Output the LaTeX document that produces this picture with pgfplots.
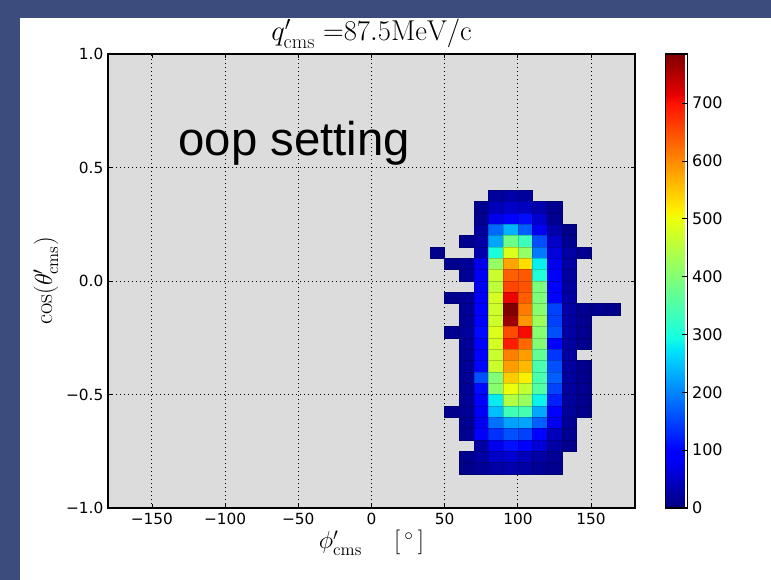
\RequirePackage{fix-cm}
\documentclass[border=0pt]{standalone}
\usepackage{fontspec}
\usepackage{pgfplots}
\pgfplotsset{compat=1.18}
\newfontfamily\dejavu{DejaVu Sans}
\newfontfamily\arialf{Liberation Sans}
\definecolor{framecol}{RGB}{60,76,124}
\definecolor{bggray}{RGB}{220,220,220}
\pgfplotsset{colormap={mpljet}{rgb(0pt)=(0,0,0.5); rgb(110pt)=(0,0,1); rgb(125pt)=(0,0,1); rgb(340pt)=(0,0.86,1); rgb(350pt)=(0,0.9,0.968); rgb(375pt)=(0.0806,1,0.887); rgb(640pt)=(0.935,1,0.032); rgb(650pt)=(0.968,0.963,0); rgb(660pt)=(1,0.926,0); rgb(890pt)=(1,0.074,0); rgb(910pt)=(0.909,0,0); rgb(1000pt)=(0.5,0,0)}}
\pgfdeclareplotmark{cell}{%
  \pgfpathrectangle{\pgfpoint{-5.4896pt}{-4.2563pt}}{\pgfpoint{10.9792pt}{8.5125pt}}%
  \pgfusepathqfillstroke}
\pgfplotstableread{
x y c
85 0.375 20
95 0.375 28
105 0.375 20
75 0.325 10
85 0.325 40
95 0.325 50
105 0.325 45
115 0.325 30
125 0.325 10
75 0.275 12
85 0.275 72
95 0.275 100
105 0.275 108
115 0.275 55
125 0.275 12
75 0.225 20
85 0.225 178
95 0.225 235
105 0.225 170
115 0.225 78
125 0.225 30
135 0.225 8
65 0.175 10
75 0.175 25
85 0.175 225
95 0.175 380
105 0.175 332
115 0.175 158
125 0.175 50
135 0.175 12
45 0.125 8
75 0.125 30
85 0.125 298
95 0.125 485
105 0.125 415
115 0.125 192
125 0.125 62
135 0.125 25
145 0.125 10
55 0.075 10
65 0.075 15
75 0.075 75
85 0.075 415
95 0.075 578
105 0.075 530
115 0.075 282
125 0.075 75
135 0.075 25
65 0.025 15
75 0.025 80
85 0.025 467
95 0.025 635
105 0.025 640
115 0.025 305
125 0.025 98
135 0.025 22
75 -0.025 78
85 -0.025 455
95 -0.025 658
105 -0.025 645
115 -0.025 393
125 -0.025 100
135 -0.025 22
55 -0.075 10
65 -0.075 15
75 -0.075 80
85 -0.075 478
95 -0.075 712
105 -0.075 637
115 -0.075 395
125 -0.075 100
135 -0.075 25
65 -0.125 15
75 -0.125 85
85 -0.125 470
95 -0.125 785
105 -0.125 612
115 -0.125 405
125 -0.125 147
135 -0.125 25
145 -0.125 12
155 -0.125 10
165 -0.125 8
65 -0.175 15
75 -0.175 90
85 -0.175 472
95 -0.175 765
105 -0.175 590
115 -0.175 425
125 -0.175 147
135 -0.175 25
145 -0.175 12
55 -0.225 10
65 -0.225 18
75 -0.225 105
85 -0.225 485
95 -0.225 652
105 -0.225 705
115 -0.225 405
125 -0.225 160
135 -0.225 25
145 -0.225 12
65 -0.275 15
75 -0.275 100
85 -0.275 478
95 -0.275 690
105 -0.275 628
115 -0.275 400
125 -0.275 92
135 -0.275 22
145 -0.275 10
65 -0.325 15
75 -0.325 100
85 -0.325 465
95 -0.325 608
105 -0.325 585
115 -0.325 368
125 -0.325 140
135 -0.325 22
65 -0.375 15
75 -0.375 102
85 -0.375 468
95 -0.375 585
105 -0.375 560
115 -0.375 345
125 -0.375 160
135 -0.375 22
145 -0.375 10
65 -0.425 15
75 -0.425 160
85 -0.425 398
95 -0.425 545
105 -0.425 515
115 -0.425 345
125 -0.425 172
135 -0.425 22
145 -0.425 10
65 -0.475 15
75 -0.475 105
85 -0.475 405
95 -0.475 500
105 -0.475 462
115 -0.475 352
125 -0.475 150
135 -0.475 20
145 -0.475 10
65 -0.525 15
75 -0.525 90
85 -0.525 280
95 -0.525 445
105 -0.525 420
115 -0.525 285
125 -0.525 122
135 -0.525 20
145 -0.525 10
55 -0.575 10
65 -0.575 15
75 -0.575 80
85 -0.575 245
95 -0.575 335
105 -0.575 340
115 -0.575 228
125 -0.575 98
135 -0.575 18
145 -0.575 8
65 -0.625 12
75 -0.625 75
85 -0.625 184
95 -0.625 222
105 -0.625 225
115 -0.625 172
125 -0.625 75
135 -0.625 15
65 -0.675 12
75 -0.675 85
85 -0.675 135
95 -0.675 160
105 -0.675 147
115 -0.675 100
125 -0.675 40
135 -0.675 12
75 -0.725 25
85 -0.725 75
95 -0.725 110
105 -0.725 90
115 -0.725 60
125 -0.725 25
135 -0.725 10
65 -0.775 10
75 -0.775 25
85 -0.775 50
95 -0.775 55
105 -0.775 40
115 -0.775 25
125 -0.775 15
65 -0.825 8
75 -0.825 15
85 -0.825 25
95 -0.825 30
105 -0.825 25
115 -0.825 15
125 -0.825 10
}\histdata
\begin{document}
\begin{tikzpicture}
\fill[framecol] (0,0) rectangle (578.25pt,-435pt);
\fill[white] (15pt,-13.5pt) rectangle (578.25pt,-435pt);
\begin{axis}[
  at={(81pt,-381pt)}, anchor=south west,
  scale only axis, width=395.25pt, height=340.5pt,
  xmin=-180, xmax=180, ymin=-1, ymax=1,
  xtick={-150,-100,-50,0,50,100,150},
  xticklabels={−150,−100,−50,0,50,100,150},
  ytick={-1,-0.5,0,0.5,1},
  yticklabels={−1.0,−0.5,0.0,0.5,1.0},
  tick label style={font=\dejavu\fontsize{11.5}{13}\selectfont},
  tick align=inside, major tick length=3pt,
  axis line style={line width=0.8pt},
  every tick/.style={black, line width=0.6pt},
  grid=major,
  grid style={black, line width=0.7pt, dash pattern=on 0.8pt off 2.2pt},
  axis on top,
  axis background/.style={fill=bggray},
  colormap name=mpljet,
  point meta min=0, point meta max=785,
  colorbar,
  colorbar style={
    at={(parent axis.north east)}, anchor=north west, xshift=14.25pt,
    width=16.5pt,
    ytick={0,100,200,300,400,500,600,700},
    yticklabels={0,100,200,300,400,500,600,700},
    ytick pos=right, yticklabel pos=right,
    tick align=inside, major tick length=4pt,
    yticklabel style={font=\dejavu\fontsize{12}{14}\selectfont},
    axis line style={line width=0.8pt},
  },
  title={$q'_{\mathrm{cms}}\;{=}87.5\mathrm{MeV/c}$},
  title style={at={(axis description cs:0.5,1.011)}, anchor=base, font=\fontsize{21.5}{25}\selectfont},
  xlabel={$\phi'_{\mathrm{cms}}\hspace{1.3em}[\,^\circ\,]$},
  xlabel style={at={(axis description cs:0.5,-0.0903)}, anchor=base, font=\fontsize{18.5}{22}\selectfont},
  ylabel={$\cos(\theta'_{\mathrm{cms}})$},
  ylabel style={at={(axis description cs:-0.106,0.5)}, anchor=base, font=\fontsize{18.5}{22}\selectfont},
]
\addplot[scatter, only marks, mark=cell, point meta=explicit,
  mark options={line width=0.3pt}] table[x=x, y=y, meta=c] {\histdata};
\node[anchor=base west, inner sep=0pt, font=\arialf\fontsize{35.5}{40}\selectfont] at (axis cs:-132,0.555) {oop setting};
\end{axis}
\end{tikzpicture}
\end{document}
